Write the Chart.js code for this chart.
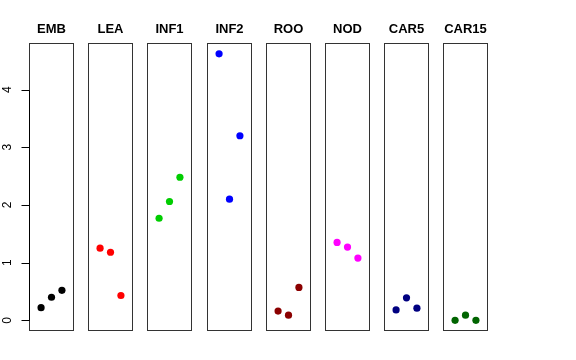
<!DOCTYPE html>
<html>
<head>
<meta charset="utf-8">
<script src="https://cdn.jsdelivr.net/npm/chart.js@4"></script>
<style>
  body { margin: 0; background: #fff; }
  #wrap { position: relative; width: 576px; height: 360px; overflow: hidden; }
  #wrap canvas { position: absolute; top: 0; }
</style>
</head>
<body>
<div id="wrap"></div>
<script>
const categories = ['EMB', 'LEA', 'INF1', 'INF2', 'ROO', 'NOD', 'CAR5', 'CAR15'];
const colors = ['#000000', '#FF0000', '#00CD00', '#0000FF', '#8B0000', '#FF00FF', '#000080', '#006400'];
const values = [
  [0.22, 0.40, 0.52],
  [1.25, 1.18, 0.43],
  [1.77, 2.06, 2.48],
  [4.62, 2.10, 3.20],
  [0.16, 0.09, 0.57],
  [1.35, 1.27, 1.08],
  [0.18, 0.39, 0.21],
  [0.00, 0.09, 0.00]
];
const yTicks = [0, 1, 2, 3, 4];

const FONT = "'Liberation Sans', Arial, Helvetica, sans-serif";
const panelLeft = 29, panelStep = 59.2, panelW = 45, side = 7;

// box around each panel
const framePlugin = {
  id: 'frame',
  afterDraw(chart) {
    const { ctx, chartArea: a } = chart;
    ctx.save();
    ctx.strokeStyle = '#333';
    ctx.lineWidth = 1;
    ctx.strokeRect(Math.round(a.left) + 0.5, Math.round(a.top) + 0.5,
      Math.round(a.right - a.left) - 1, Math.round(a.bottom - a.top) - 1);
    ctx.restore();
  }
};

// R-style left axis with rotated labels, only on first panel
const yAxisPlugin = {
  id: 'raxis',
  afterDraw(chart) {
    const { ctx, chartArea: a } = chart;
    const ys = chart.scales.y;
    const x0 = Math.round(a.left) + 0.5;
    ctx.save();
    ctx.strokeStyle = '#000';
    ctx.lineWidth = 1;
    ctx.beginPath();
    ctx.moveTo(x0, Math.round(ys.getPixelForValue(yTicks[0])) + 0.5);
    ctx.lineTo(x0, Math.round(ys.getPixelForValue(yTicks[yTicks.length - 1])) + 0.5);
    yTicks.forEach(t => {
      const py = Math.round(ys.getPixelForValue(t)) + 0.5;
      ctx.moveTo(x0, py);
      ctx.lineTo(x0 - 8, py);
    });
    ctx.stroke();
    ctx.fillStyle = '#000';
    ctx.font = '12px ' + FONT;
    ctx.textAlign = 'center';
    ctx.textBaseline = 'middle';
    yTicks.forEach(t => {
      const py = ys.getPixelForValue(t);
      ctx.save();
      ctx.translate(8, py);
      ctx.rotate(-Math.PI / 2);
      ctx.fillText(String(t), 0, 0);
      ctx.restore();
    });
    ctx.restore();
  }
};

const wrap = document.getElementById('wrap');

categories.forEach((cat, i) => {
  const left = Math.round(panelLeft + i * panelStep);
  const padL = i === 0 ? left : side;
  const canvas = document.createElement('canvas');
  canvas.width = padL + panelW + side;
  canvas.height = 360;
  canvas.style.left = (left - padL) + 'px';
  wrap.appendChild(canvas);

  new Chart(canvas, {
    type: 'scatter',
    data: {
      datasets: [{
        label: cat,
        data: values[i].map((v, j) => ({ x: j + 1, y: v })),
        backgroundColor: colors[i],
        borderWidth: 0,
        pointRadius: 3.6
      }]
    },
    options: {
      responsive: false,
      animation: false,
      events: [],
      layout: { padding: { left: padL, right: side, top: 0, bottom: 29 } },
      scales: {
        x: { type: 'linear', min: -0.16, max: 4.16, display: false },
        y: { type: 'linear', min: -0.185, max: 4.806, display: false }
      },
      plugins: {
        legend: { display: false },
        tooltip: { enabled: false },
        title: {
          display: true,
          text: cat,
          color: '#000',
          font: { family: FONT, size: 13, weight: 'bold' },
          padding: { top: 21.5, bottom: 6 }
        }
      }
    },
    plugins: i === 0 ? [framePlugin, yAxisPlugin] : [framePlugin]
  });
});
</script>
</body>
</html>
